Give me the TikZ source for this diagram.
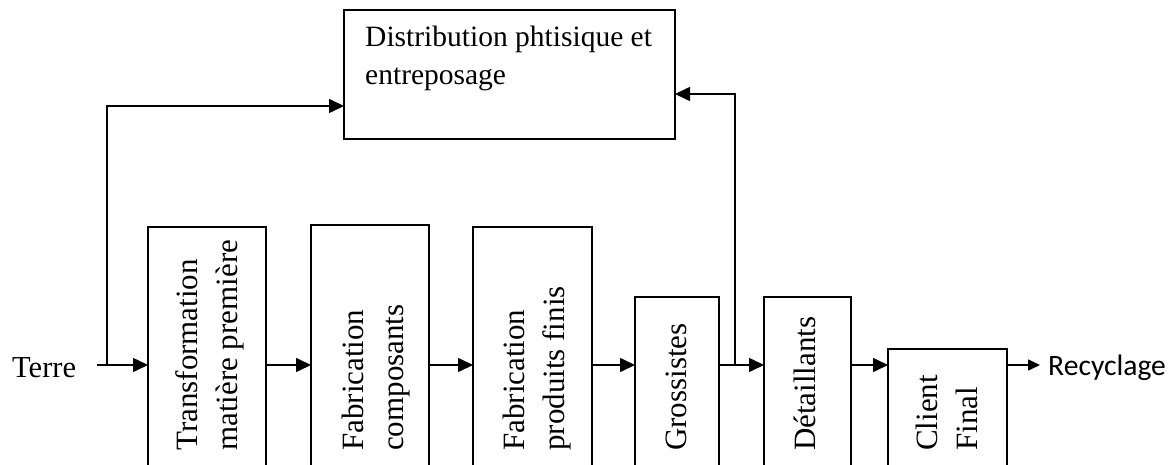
\documentclass[tikz,border=0pt]{standalone}
\usepackage{fontspec}
\setmainfont{Liberation Serif}
\newfontfamily\recfont{Carlito}
\usetikzlibrary{arrows.meta}
\begin{document}
\begin{tikzpicture}[x=1pt,y=1pt,
  box/.style={draw, line width=1.6pt, inner sep=0pt, outer sep=0pt, anchor=north west},
  vlabel/.style={rotate=90, anchor=base west, align=left, inner sep=0pt,
    font=\fontsize{31}{40}\selectfont},
  txt/.style={inner sep=0pt, font=\fontsize{29.5}{38}\selectfont},
  link/.style={line width=1.6pt, -{Triangle[length=15pt,width=14pt]}},
  smalllink/.style={line width=1.6pt, -{Triangle[length=12pt,width=11pt]}}]
\path[use as bounding box, clip] (0,0) rectangle (1170,-465);

% storage / distribution box
\node[box, minimum width=331pt, minimum height=129pt] (dist) at (344,-10) {};
% multi-line nodes sit on the baseline of their last line
\node[txt, anchor=base west, align=left] (distlab) at (365,-85)
  {Distribution phtisique et\\entreposage};

% chain boxes (they run past the lower edge)
\node[box, minimum width=118pt, minimum height=253pt] (b1) at (148,-227) {};
\node[box, minimum width=118pt, minimum height=255pt] (b2) at (311,-225) {};
\node[box, minimum width=119pt, minimum height=253pt] (b3) at (473,-227) {};
\node[box, minimum width=84pt,  minimum height=183pt] (b4) at (635,-297) {};
\node[box, minimum width=87pt,  minimum height=183pt] (b5) at (764,-297) {};
\node[box, minimum width=119pt, minimum height=131pt] (b6) at (888,-349) {};

% rotated labels
\node[vlabel] (l1) at (237,-451) {Transformation\\matière première};
\node[vlabel] (l2) at (403,-451) {Fabrication\\composants};
\node[vlabel] (l3) at (564,-451) {Fabrication\\produits finis};
\node[vlabel] (l4) at (686,-451) {Grossistes};
\node[vlabel] (l5) at (815,-451) {Détaillants};
\node[vlabel] (l6) at (977,-451) {Client\\Final};

% end labels
\node[txt, anchor=base west, font=\fontsize{30.5}{38}\selectfont] (terre) at (12,-377) {Terre};
\node[txt, anchor=base west, inner xsep=8pt, inner ysep=0pt, font=\recfont\fontsize{29.6}{36}\selectfont]
  (rec) at (1040,-375) {Recyclage};

% flow line and branch points
\coordinate (s) at (97,-365);
\coordinate (j1) at (107,-365);
\coordinate (j2) at (735,-365);

\draw[link] (s) -- (b1.west |- s);
\draw[link] (b1.east |- s) -- (b2.west |- s);
\draw[link] (b2.east |- s) -- (b3.west |- s);
\draw[link] (b3.east |- s) -- (b4.west |- s);
\draw[link] (b4.east |- s) -- (b5.west |- s);
\draw[link] (b5.east |- s) -- (b6.west |- s);
\draw[smalllink] (b6.east |- s) -- (rec.west |- s);

% feedback to distribution
\draw[link] (j1) |- (dist.west |- 0,-106);
\draw[link] (j2) |- (dist.east |- 0,-94);
\end{tikzpicture}
\end{document}
